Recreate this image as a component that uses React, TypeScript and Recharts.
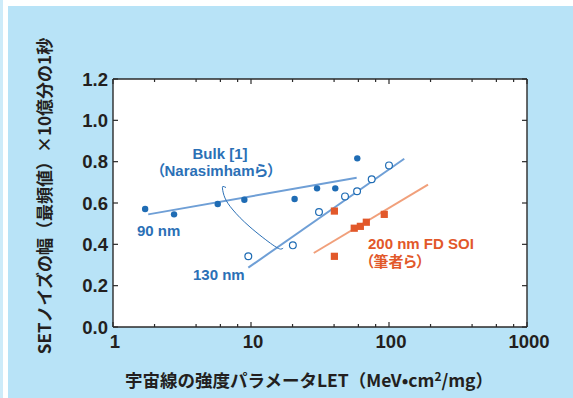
import React from 'react';
import { ComposedChart, XAxis, YAxis, Scatter, Line, CartesianGrid, Customized } from 'recharts';

// ---- data (LET in MeV·cm²/mg, SET width in ns) ----
const bulk90 = [
  { x: 1.71, y: 0.571 }, { x: 2.77, y: 0.545 }, { x: 5.74, y: 0.595 }, { x: 8.95, y: 0.616 },
  { x: 20.7, y: 0.619 }, { x: 30.1, y: 0.671 }, { x: 40.8, y: 0.671 }, { x: 58.9, y: 0.816 },
];
const bulk130 = [
  { x: 9.56, y: 0.342 }, { x: 20.1, y: 0.395 }, { x: 31.1, y: 0.556 }, { x: 48, y: 0.632 },
  { x: 58.7, y: 0.657 }, { x: 74.9, y: 0.715 }, { x: 100, y: 0.782 },
];
const soi200 = [
  { x: 40.2, y: 0.561 }, { x: 40.2, y: 0.342 }, { x: 56, y: 0.478 }, { x: 62, y: 0.487 },
  { x: 68.5, y: 0.507 }, { x: 92.4, y: 0.545 },
];
const fit90 = [{ x: 1.8, y: 0.545 }, { x: 58.3, y: 0.722 }];
const fit130 = [{ x: 9.56, y: 0.287 }, { x: 129, y: 0.814 }];
const fitSoi = [{ x: 28.5, y: 0.358 }, { x: 191.7, y: 0.689 }];
const bracket = [
  { x: 6.59, y: 0.675 }, { x: 6.27, y: 0.68 }, { x: 6.22, y: 0.668 }, { x: 6.48, y: 0.624 },
  { x: 7.41, y: 0.566 }, { x: 9.83, y: 0.484 }, { x: 14.4, y: 0.397 }, { x: 16.5, y: 0.377 },
  { x: 17.1, y: 0.382 },
];
const xMajorTicks = [1, 10, 100, 1000];
const xMinorTicks = [2, 4, 6, 8, 20, 40, 60, 80, 200, 400, 600, 800];
const xAllTicks = [...xMajorTicks, ...xMinorTicks].sort((a, b) => a - b);
const yTicks = [0, 0.2, 0.4, 0.6, 0.8, 1.0, 1.2];

const xTitle = '宇宙線の強度パラメータLET（MeV•cm';
const xTitleEnd = '/mg）';
const yTitle = 'SETノイズの幅（最頻値）×10億分の1秒';

const W = 573;
const H = 398;
const AXIS = '#2a2a2a';
const BLUE_DOT = '#1f6cb4';
const BLUE_LINE = '#6f9fd6';
const BLUE_TEXT = '#2b70b6';
const ORANGE = '#e2582a';
const ORANGE_LINE = '#f1a07b';
const LAT = '"Liberation Sans", Arial, "Noto Sans CJK JP", sans-serif';
const CJK = '"Noto Sans CJK JP", "Noto Sans", sans-serif';

const BottomTick = (p: any) => {
  const major = xMajorTicks.includes(p.payload.value);
  return (
    <g>
      <line x1={p.x} x2={p.x} y1={p.y} y2={p.y - (major ? 5 : 3)} stroke={AXIS} strokeWidth={1.2} />
      {major && (
        <text x={p.x + 2} y={p.y + 21} textAnchor="middle" fontFamily={LAT} fontWeight={700} fontSize={18.5} fill="#231f20">
          {p.payload.value}
        </text>
      )}
    </g>
  );
};
const TopTick = (p: any) => {
  const major = xMajorTicks.includes(p.payload.value);
  return <line x1={p.x} x2={p.x} y1={p.y} y2={p.y + (major ? 5 : 3)} stroke={AXIS} strokeWidth={1.2} />;
};
const LeftTick = (p: any) => (
  <g>
    <line x1={p.x} x2={p.x + 5} y1={p.y} y2={p.y} stroke={AXIS} strokeWidth={1.2} />
    <text x={p.x - 5} y={p.y + 6.5} textAnchor="end" fontFamily={LAT} fontWeight={700} fontSize={18.5} fill="#231f20">
      {Number(p.payload.value).toFixed(1)}
    </text>
  </g>
);
const RightTick = (p: any) => (
  <line x1={p.x} x2={p.x - 5} y1={p.y} y2={p.y} stroke={AXIS} strokeWidth={1.2} />
);

const FilledDot = (p: any) => <circle cx={p.cx} cy={p.cy} r={3.2} fill={BLUE_DOT} />;
const OpenDot = (p: any) => <circle cx={p.cx} cy={p.cy} r={3.4} fill="#fff" stroke={BLUE_DOT} strokeWidth={1.2} />;
const SquareDot = (p: any) => <rect x={p.cx - 3.6} y={p.cy - 3.6} width={7.2} height={7.2} fill={ORANGE} />;

const Annotations = () => (
  <g>
    <g style={{ fontFeatureSettings: '"palt"' }}>
      <text x={220} y={159} textAnchor="middle" fontFamily={LAT} fontWeight={700} fontSize={15} fill={BLUE_TEXT}>Bulk [1]</text>
      <text x={157} y={176} textAnchor="start" fontFamily={LAT} fontWeight={700} fontSize={15} fill={BLUE_TEXT}>（Narasimhamら）</text>
      <text x={137} y={236} textAnchor="start" fontFamily={LAT} fontWeight={700} fontSize={15} fill={BLUE_TEXT}>90 nm</text>
      <text x={193} y={280} textAnchor="start" fontFamily={LAT} fontWeight={700} fontSize={15} fill={BLUE_TEXT}>130 nm</text>
      <text x={368} y={249} textAnchor="start" fontFamily={LAT} fontWeight={700} fontSize={15} fill={ORANGE}>200 nm FD SOI</text>
      <text x={366} y={267} textAnchor="start" fontFamily={LAT} fontWeight={700} fontSize={15} fill={ORANGE}>（筆者ら）</text>
    </g>
    <text x={309} y={387} textAnchor="middle" fontFamily={CJK} fontWeight={700} fontSize={17.5} fill="#231f20">
      {xTitle}
      <tspan fontSize={12} dy={-6}>2</tspan>
      <tspan dy={6}>{xTitleEnd}</tspan>
    </text>
    <text x={51} y={196} textAnchor="middle" transform="rotate(-90 51 196)" fontFamily={CJK} fontWeight={700} fontSize={17} fill="#231f20">
      {yTitle}
    </text>
  </g>
);

export default function App() {
  return (
    <div style={{ position: 'absolute', left: 0, top: 0, width: W, height: H, background: '#fff', overflow: 'hidden' }}>
      <div style={{ position: 'absolute', left: 0, top: 0, width: 3, height: H, background: '#cdebf9' }} />
      <div style={{ position: 'absolute', left: 8, top: 6, width: W - 8, height: H - 6, background: '#b8e3f7' }} />
      <div style={{ position: 'absolute', left: 0, top: 0 }}>
        <ComposedChart width={W} height={H} margin={{ top: 78, right: 45, bottom: 70, left: 112 }}>
          <CartesianGrid horizontal={false} vertical={false} fill="#fff" stroke="none" />
          <XAxis xAxisId="b" dataKey="x" type="number" scale="log" domain={[1, 1000]} allowDataOverflow
            ticks={xAllTicks} interval={0} height={1} tickSize={0} tickMargin={0} tickLine={false}
            axisLine={{ stroke: AXIS, strokeWidth: 1.4 }} tick={<BottomTick />} />
          <XAxis xAxisId="t" orientation="top" dataKey="x" type="number" scale="log" domain={[1, 1000]} allowDataOverflow
            ticks={xAllTicks} interval={0} height={1} tickSize={0} tickMargin={0} tickLine={false}
            axisLine={{ stroke: AXIS, strokeWidth: 1.4 }} tick={<TopTick />} />
          <YAxis yAxisId="l" dataKey="y" type="number" domain={[0, 1.2]} allowDataOverflow ticks={yTicks} interval={0}
            width={1} tickSize={0} tickMargin={0} tickLine={false} axisLine={{ stroke: AXIS, strokeWidth: 1.4 }} tick={<LeftTick />} />
          <YAxis yAxisId="r" orientation="right" dataKey="y" type="number" domain={[0, 1.2]} allowDataOverflow ticks={yTicks} interval={0}
            width={1} tickSize={0} tickMargin={0} tickLine={false} axisLine={{ stroke: AXIS, strokeWidth: 1.4 }} tick={<RightTick />} />

          <Line xAxisId="b" yAxisId="l" data={fit90} dataKey="y" type="linear" stroke={BLUE_LINE} strokeWidth={2} dot={false} isAnimationActive={false} />
          <Line xAxisId="b" yAxisId="l" data={fit130} dataKey="y" type="linear" stroke={BLUE_LINE} strokeWidth={2} dot={false} isAnimationActive={false} />
          <Line xAxisId="b" yAxisId="l" data={fitSoi} dataKey="y" type="linear" stroke={ORANGE_LINE} strokeWidth={2} dot={false} isAnimationActive={false} />
          <Line xAxisId="b" yAxisId="l" data={bracket} dataKey="y" type="natural" stroke={BLUE_TEXT} strokeWidth={1} dot={false} isAnimationActive={false} />

          <Scatter xAxisId="b" yAxisId="l" data={bulk90} dataKey="y" shape={<FilledDot />} isAnimationActive={false} />
          <Scatter xAxisId="b" yAxisId="l" data={bulk130} dataKey="y" shape={<OpenDot />} isAnimationActive={false} />
          <Scatter xAxisId="b" yAxisId="l" data={soi200} dataKey="y" shape={<SquareDot />} isAnimationActive={false} />
          <Customized component={<Annotations />} />
        </ComposedChart>
      </div>
    </div>
  );
}
